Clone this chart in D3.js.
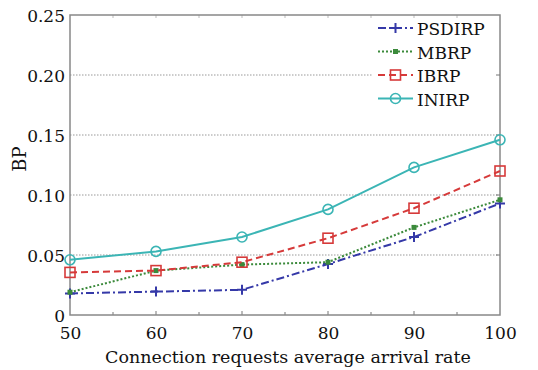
<!DOCTYPE html>
<html>
<head>
<meta charset="utf-8">
<script src="https://cdn.jsdelivr.net/npm/d3@7.9.0/dist/d3.min.js"></script>
<style>
  body { margin: 0; background: #fff; }
  svg { display: block; }
  svg text { font-family: "DejaVu Serif", "Liberation Serif", serif; }
</style>
</head>
<body>
<svg id="chart" width="538" height="370"></svg>
<script>
const rates = [50, 60, 70, 80, 90, 100];
const psdirp = [0.018, 0.0195, 0.021, 0.0425, 0.065, 0.093];
const mbrp = [0.019, 0.037, 0.042, 0.044, 0.073, 0.096];
const ibrp = [0.0355, 0.037, 0.044, 0.064, 0.089, 0.120];
const inirp = [0.046, 0.053, 0.065, 0.088, 0.123, 0.146];
const yTicks = [0, 0.05, 0.10, 0.15, 0.20, 0.25];

const series = [
  { name: 'PSDIRP', values: psdirp, color: '#3539a8', dash: '8,3,2,3', marker: 'plus' },
  { name: 'MBRP', values: mbrp, color: '#3b8a3b', dash: '2,2', marker: 'dot' },
  { name: 'IBRP', values: ibrp, color: '#d63a3a', dash: '7,4', marker: 'square' },
  { name: 'INIRP', values: inirp, color: '#3bb5b5', dash: null, marker: 'circle' }
];

const plotL = 70, plotR = 500, plotT = 15, plotB = 315;
const fontSize = 17;
const svg = d3.select('#chart');

const x = d3.scaleLinear().domain([50, 100]).range([plotL, plotR]);
const y = d3.scaleLinear().domain([0, 0.25]).range([plotB, plotT]);

// grid lines
svg.append('g')
  .selectAll('line')
  .data(yTicks.filter((d) => d > 0 && d < 0.25))
  .join('line')
  .attr('x1', plotL).attr('x2', plotR)
  .attr('y1', (d) => y(d)).attr('y2', (d) => y(d))
  .attr('stroke', '#999')
  .attr('stroke-width', 1)
  .attr('stroke-dasharray', '1.5,1.5');

// legend background hides grid under it
svg.append('rect')
  .attr('x', 373).attr('y', plotT + 1)
  .attr('width', plotR - 374).attr('height', 96)
  .attr('fill', '#fff');

const fmt = (d) => (d === 0 ? '0' : d3.format('.2f')(d));

const xAxis = svg.append('g')
  .attr('transform', `translate(0,${plotB})`)
  .call(d3.axisBottom(x).tickValues(rates).tickSize(0).tickPadding(12));
xAxis.select('.domain').remove();
xAxis.attr('font-family', null);
xAxis.selectAll('text').attr('font-size', fontSize).attr('fill', '#111');

const yAxis = svg.append('g')
  .attr('transform', `translate(${plotL},0)`)
  .call(d3.axisLeft(y).tickValues(yTicks).tickFormat(fmt).tickSize(0).tickPadding(5));
yAxis.select('.domain').remove();
yAxis.attr('font-family', null);
yAxis.selectAll('text').attr('font-size', fontSize).attr('fill', '#111').attr('dy', '0.4em');

// minor ticks
const minor = d3.range(55, 100, 10).concat(rates.slice(1, -1));
svg.append('g')
  .selectAll('line')
  .data(minor)
  .join('line')
  .attr('x1', (d) => x(d)).attr('x2', (d) => x(d))
  .attr('y1', plotB).attr('y2', (d) => plotB - (d % 10 === 0 ? 4 : 3))
  .attr('stroke', '#777');
svg.append('g')
  .selectAll('line')
  .data(minor)
  .join('line')
  .attr('x1', (d) => x(d)).attr('x2', (d) => x(d))
  .attr('y1', plotT).attr('y2', plotT + 3)
  .attr('stroke', '#bbb');
svg.append('g')
  .selectAll('line')
  .data(yTicks.slice(1, -1))
  .join('line')
  .attr('x1', plotR).attr('x2', plotR - 4)
  .attr('y1', (d) => y(d)).attr('y2', (d) => y(d))
  .attr('stroke', '#777');

// frame
svg.append('rect')
  .attr('x', plotL).attr('y', plotT)
  .attr('width', plotR - plotL).attr('height', plotB - plotT)
  .attr('fill', 'none')
  .attr('stroke', '#888')
  .attr('stroke-width', 1.5);

const line = d3.line()
  .x((d, i) => x(rates[i]))
  .y((d) => y(d));

function drawMarker(g, type, color, cx, cy) {
  if (type === 'plus') {
    g.append('path')
      .attr('d', `M${cx - 5},${cy}H${cx + 5}M${cx},${cy - 5}V${cy + 5}`)
      .attr('stroke', color).attr('stroke-width', 2);
  } else if (type === 'dot') {
    g.append('rect')
      .attr('x', cx - 2.5).attr('y', cy - 2.5).attr('width', 5).attr('height', 5)
      .attr('fill', color);
  } else if (type === 'square') {
    g.append('rect')
      .attr('x', cx - 5).attr('y', cy - 5).attr('width', 10).attr('height', 10)
      .attr('fill', 'none').attr('stroke', color).attr('stroke-width', 1.6);
  } else {
    g.append('circle')
      .attr('cx', cx).attr('cy', cy).attr('r', 5)
      .attr('fill', 'none').attr('stroke', color).attr('stroke-width', 1.6);
  }
}

for (const s of series) {
  const g = svg.append('g');
  g.append('path')
    .attr('d', line(s.values))
    .attr('fill', 'none')
    .attr('stroke', s.color)
    .attr('stroke-width', 2)
    .attr('stroke-dasharray', s.dash);
  s.values.forEach((v, i) => drawMarker(g, s.marker, s.color, x(rates[i]), y(v)));
}

// legend
series.forEach((s, i) => {
  const ly = 28 + i * 23.5;
  const g = svg.append('g');
  g.append('line')
    .attr('x1', 378).attr('x2', 413)
    .attr('y1', ly).attr('y2', ly)
    .attr('stroke', s.color).attr('stroke-width', 2)
    .attr('stroke-dasharray', s.dash);
  drawMarker(g, s.marker, s.color, 395.5, ly);
  g.append('text')
    .attr('x', 417).attr('y', ly + 7)
    .attr('font-size', 17)
    .attr('fill', '#111')
    .text(s.name);
});

// axis titles
svg.append('text')
  .attr('x', 288).attr('y', 363)
  .attr('text-anchor', 'middle')
  .attr('font-size', 17.5)
  .attr('fill', '#111')
  .text('Connection requests average arrival rate');

svg.append('text')
  .attr('transform', 'translate(26,159) rotate(-90)')
  .attr('text-anchor', 'middle')
  .attr('font-size', 18)
  .attr('fill', '#111')
  .text('BP');
</script>
</body>
</html>
